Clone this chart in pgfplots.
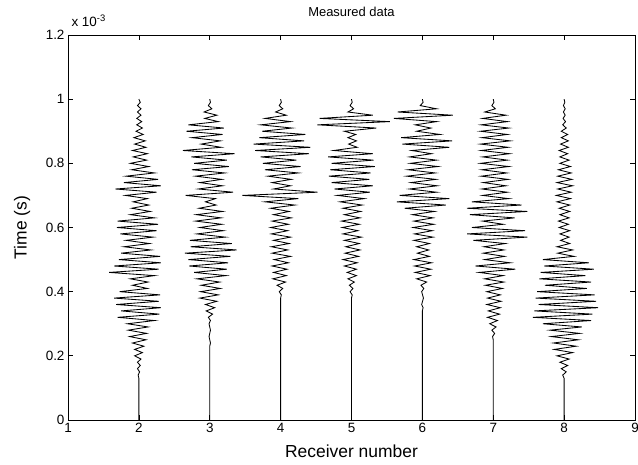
\documentclass[border=0pt]{standalone}
\usepackage{fontspec}
\setmainfont{Liberation Sans}
\usepackage{pgfplots}
\pgfplotsset{compat=1.18}
\begin{document}
\begin{tikzpicture}
\begin{axis}[
 name=ax,
 scale only axis, width=567bp, height=385bp,
 at={(0,0)}, anchor=south west,
 xmin=1, xmax=9, ymin=0, ymax=1.2,
 xtick={1,2,3,4,5,6,7,8,9}, ytick={0,0.2,0.4,0.6,0.8,1,1.2},
 tick align=inside, tick pos=both, major tick length=5bp,
 ticklabel style={font=\fontsize{13.5}{16}\selectfont},
 /pgf/number format/assume math mode=true,
 scaled y ticks=false,
 axis line style={line width=0.7pt},
 every tick/.style={black, line width=0.7pt},
 xlabel={Receiver number}, ylabel={Time (s)},
 label style={font=\fontsize{17.5}{20}\selectfont},
 xlabel style={at={(axis description cs:0.5,-0.0987)}, anchor=base},
 ylabel style={at={(axis description cs:-0.081,0.5)}, anchor=center},
 title={Measured data},
 title style={font=\fontsize{13}{15}\selectfont, at={(axis description cs:0.5,1)}, anchor=base, yshift=13bp},
 trace/.style={black, line width=0.85pt, sharp plot, mark=none},
]
% Receiver 2
\addplot[trace] table[row sep=\\, x expr=\thisrow{a}+2, y=t]{t a\\
1.00 0\\0.99 0.02\\0.98 -0.02\\0.97 0.03\\0.96 -0.02\\0.95 0.03\\0.94 -0.03\\0.93 0.04\\0.92 -0.03\\0.91 0.05\\
0.90 -0.04\\0.89 0.06\\0.88 -0.07\\0.87 0.09\\0.86 -0.06\\0.85 0.10\\0.84 -0.09\\0.83 0.12\\0.82 -0.08\\0.81 0.11\\
0.80 -0.12\\0.79 0.14\\0.78 -0.10\\0.77 0.22\\0.76 -0.18\\0.75 0.27\\0.74 -0.21\\0.73 0.31\\0.72 -0.33\\0.71 0.25\\
0.70 -0.19\\0.69 0.12\\0.68 -0.08\\0.67 0.14\\0.66 -0.10\\0.65 0.16\\0.64 -0.12\\0.63 0.22\\0.62 -0.30\\0.61 0.27\\
0.60 -0.31\\0.59 0.25\\0.58 -0.26\\0.57 0.20\\0.56 -0.18\\0.55 0.15\\0.54 -0.21\\0.53 0.17\\0.52 -0.25\\0.51 0.30\\
0.50 -0.28\\0.49 0.31\\0.48 -0.35\\0.47 0.28\\0.46 -0.42\\0.45 0.22\\0.44 -0.12\\0.43 0.13\\0.42 -0.09\\0.41 0.12\\
0.40 -0.27\\0.39 0.30\\0.38 -0.35\\0.37 0.28\\0.36 -0.32\\0.35 0.31\\0.34 -0.25\\0.33 0.29\\0.32 -0.30\\0.31 0.22\\
0.30 -0.16\\0.29 0.13\\0.28 -0.15\\0.27 0.11\\0.26 -0.13\\0.25 0.10\\0.24 -0.09\\0.23 0.07\\0.22 -0.06\\0.21 0.05\\
0.20 -0.06\\0.19 0.03\\0.18 -0.02\\0.17 0.02\\0.16 -0.02\\0.15 0.01\\0.14 -0.01\\0.13 0\\0.00 0\\
};
% Receiver 3
\addplot[trace] table[row sep=\\, x expr=\thisrow{a}+3, y=t]{t a\\
1.00 0\\0.99 0.01\\0.98 -0.02\\0.97 0.03\\0.96 -0.08\\0.95 0.10\\0.94 -0.07\\0.93 0.12\\0.92 -0.30\\0.91 0.20\\
0.90 -0.33\\0.89 0.18\\0.88 -0.25\\0.87 0.15\\0.86 -0.12\\0.85 0.16\\0.84 -0.38\\0.83 0.35\\0.82 -0.26\\0.81 0.24\\
0.80 -0.22\\0.79 0.27\\0.78 -0.25\\0.77 0.21\\0.76 -0.20\\0.75 0.17\\0.74 -0.14\\0.73 0.18\\0.72 -0.16\\0.71 0.33\\
0.70 -0.34\\0.69 0.08\\0.68 -0.06\\0.67 0.09\\0.66 -0.15\\0.65 0.18\\0.64 -0.19\\0.63 0.16\\0.62 -0.20\\0.61 0.17\\
0.60 -0.14\\0.59 0.19\\0.58 -0.18\\0.57 0.22\\0.56 -0.28\\0.55 0.31\\0.54 -0.27\\0.53 0.38\\0.52 -0.35\\0.51 0.29\\
0.50 -0.30\\0.49 0.26\\0.48 -0.29\\0.47 0.24\\0.46 -0.22\\0.45 0.23\\0.44 -0.18\\0.43 0.14\\0.42 -0.12\\0.41 0.15\\
0.40 -0.13\\0.39 0.12\\0.38 -0.14\\0.37 0.10\\0.36 -0.06\\0.35 0.07\\0.34 -0.05\\0.33 0.04\\0.32 -0.02\\0.31 0.01\\
0.30 -0.01\\0.28 0.01\\0.26 -0.01\\0.24 0.01\\0.23 0\\0.00 0\\
};
% Receiver 4
\addplot[trace] table[row sep=\\, x expr=\thisrow{a}+4, y=t]{t a\\
1.00 0\\0.99 0.01\\0.98 -0.02\\0.97 0.03\\0.96 -0.07\\0.95 0.08\\0.94 -0.22\\0.93 0.14\\0.92 -0.28\\0.91 0.16\\
0.90 -0.26\\0.89 0.35\\0.88 -0.30\\0.87 0.33\\0.86 -0.38\\0.85 0.42\\0.84 -0.36\\0.83 0.40\\0.82 -0.28\\0.81 0.22\\
0.80 -0.25\\0.79 0.28\\0.78 -0.22\\0.77 0.25\\0.76 -0.18\\0.75 0.15\\0.74 -0.12\\0.73 0.14\\0.72 -0.10\\0.71 0.52\\
0.70 -0.54\\0.69 0.25\\0.68 -0.22\\0.67 0.20\\0.66 -0.14\\0.65 0.12\\0.64 -0.10\\0.63 0.15\\0.62 -0.12\\0.61 0.11\\
0.60 -0.14\\0.59 0.10\\0.58 -0.13\\0.57 0.14\\0.56 -0.10\\0.55 0.12\\0.54 -0.13\\0.53 0.10\\0.52 -0.12\\0.51 0.14\\
0.50 -0.09\\0.49 0.11\\0.48 -0.12\\0.47 0.09\\0.46 -0.10\\0.45 0.08\\0.44 -0.11\\0.43 0.07\\0.42 -0.05\\0.41 0.03\\
0.40 -0.02\\0.39 0.01\\0.38 0\\0.00 0\\
};
% Receiver 5
\addplot[trace] table[row sep=\\, x expr=\thisrow{a}+5, y=t]{t a\\
1.00 0\\0.99 0.01\\0.98 -0.02\\0.97 0.03\\0.96 -0.05\\0.95 0.30\\0.94 -0.45\\0.93 0.54\\0.92 -0.48\\0.91 0.35\\
0.90 -0.10\\0.89 0.06\\0.88 -0.05\\0.87 0.07\\0.86 -0.04\\0.85 0.08\\0.84 -0.25\\0.83 0.30\\0.82 -0.33\\0.81 0.31\\
0.80 -0.28\\0.79 0.33\\0.78 -0.30\\0.77 0.27\\0.76 -0.32\\0.75 0.25\\0.74 -0.28\\0.73 0.30\\0.72 -0.24\\0.71 0.26\\
0.70 -0.20\\0.69 0.18\\0.68 -0.16\\0.67 0.15\\0.66 -0.12\\0.65 0.13\\0.64 -0.10\\0.63 0.12\\0.62 -0.14\\0.61 0.11\\
0.60 -0.13\\0.59 0.09\\0.58 -0.12\\0.57 0.14\\0.56 -0.10\\0.55 0.11\\0.54 -0.08\\0.53 0.12\\0.52 -0.09\\0.51 0.10\\
0.50 -0.12\\0.49 0.08\\0.48 -0.10\\0.47 0.07\\0.46 -0.06\\0.45 0.07\\0.44 -0.05\\0.43 0.04\\0.42 -0.03\\0.41 0.02\\
0.40 -0.02\\0.39 0.01\\0.38 0\\0.00 0\\
};
% Receiver 6
\addplot[trace] table[row sep=\\, x expr=\thisrow{a}+6, y=t]{t a\\
1.00 0\\0.99 0.01\\0.98 -0.03\\0.97 0.20\\0.96 -0.35\\0.95 0.43\\0.94 -0.40\\0.93 0.20\\0.92 -0.10\\0.91 0.12\\
0.90 -0.08\\0.89 0.25\\0.88 -0.30\\0.87 0.42\\0.86 -0.28\\0.85 0.38\\0.84 -0.15\\0.83 0.13\\0.82 -0.18\\0.81 0.20\\
0.80 -0.17\\0.79 0.22\\0.78 -0.20\\0.77 0.18\\0.76 -0.22\\0.75 0.19\\0.74 -0.16\\0.73 0.21\\0.72 -0.18\\0.71 0.20\\
0.70 -0.32\\0.69 0.38\\0.68 -0.36\\0.67 0.33\\0.66 -0.25\\0.65 0.17\\0.64 -0.14\\0.63 0.15\\0.62 -0.12\\0.61 0.16\\
0.60 -0.13\\0.59 0.14\\0.58 -0.11\\0.57 0.15\\0.56 -0.12\\0.55 0.10\\0.54 -0.08\\0.53 0.09\\0.52 -0.07\\0.51 0.10\\
0.50 -0.12\\0.49 0.13\\0.48 -0.11\\0.47 0.12\\0.46 -0.10\\0.45 0.11\\0.44 -0.08\\0.43 0.06\\0.42 -0.02\\0.41 0.02\\
0.40 -0.01\\0.38 0.015\\0.36 -0.01\\0.35 0.01\\0.34 0\\0.00 0\\
};
% Receiver 7
\addplot[trace] table[row sep=\\, x expr=\thisrow{a}+7, y=t]{t a\\
1.00 0\\0.99 0.01\\0.98 -0.02\\0.97 0.03\\0.96 -0.12\\0.95 0.18\\0.94 -0.15\\0.93 0.20\\0.92 -0.17\\0.91 0.22\\
0.90 -0.18\\0.89 0.20\\0.88 -0.16\\0.87 0.24\\0.86 -0.18\\0.85 0.21\\0.84 -0.17\\0.83 0.23\\0.82 -0.15\\0.81 0.20\\
0.80 -0.18\\0.79 0.22\\0.78 -0.16\\0.77 0.19\\0.76 -0.17\\0.75 0.21\\0.74 -0.14\\0.73 0.18\\0.72 -0.16\\0.71 0.20\\
0.70 -0.15\\0.69 0.22\\0.68 -0.30\\0.67 0.40\\0.66 -0.37\\0.65 0.48\\0.64 -0.33\\0.63 0.30\\0.62 -0.15\\0.61 0.14\\
0.60 -0.30\\0.59 0.45\\0.58 -0.37\\0.57 0.48\\0.56 -0.28\\0.55 0.17\\0.54 -0.13\\0.53 0.15\\0.52 -0.14\\0.51 0.16\\
0.50 -0.12\\0.49 0.24\\0.48 -0.25\\0.47 0.31\\0.46 -0.20\\0.45 0.14\\0.44 -0.12\\0.43 0.15\\0.42 -0.11\\0.41 0.13\\
0.40 -0.09\\0.39 0.10\\0.38 -0.08\\0.37 0.11\\0.36 -0.09\\0.35 0.10\\0.34 -0.07\\0.33 0.09\\0.32 -0.08\\0.31 0.06\\
0.30 -0.05\\0.29 0.04\\0.28 -0.02\\0.27 0.02\\0.26 -0.01\\0.25 0\\0.00 0\\
};
% Receiver 8
\addplot[trace] table[row sep=\\, x expr=\thisrow{a}+8, y=t]{t a\\
1.00 0\\0.99 0.01\\0.98 -0.01\\0.97 0.015\\0.96 -0.01\\0.95 0.015\\0.94 -0.015\\0.93 0.02\\0.92 -0.02\\0.91 0.03\\
0.90 -0.04\\0.89 0.05\\0.88 -0.04\\0.87 0.06\\0.86 -0.05\\0.85 0.06\\0.84 -0.07\\0.83 0.05\\0.82 -0.06\\0.81 0.07\\
0.80 -0.06\\0.79 0.09\\0.78 -0.08\\0.77 0.10\\0.76 -0.09\\0.75 0.11\\0.74 -0.10\\0.73 0.12\\0.72 -0.09\\0.71 0.10\\
0.70 -0.11\\0.69 0.09\\0.68 -0.10\\0.67 0.08\\0.66 -0.07\\0.65 0.08\\0.64 -0.06\\0.63 0.07\\0.62 -0.08\\0.61 0.06\\
0.60 -0.07\\0.59 0.08\\0.58 -0.06\\0.57 0.07\\0.56 -0.05\\0.55 0.08\\0.54 -0.10\\0.53 0.12\\0.52 -0.09\\0.51 0.14\\
0.50 -0.30\\0.49 0.35\\0.48 -0.28\\0.47 0.42\\0.46 -0.33\\0.45 0.30\\0.44 -0.35\\0.43 0.38\\0.42 -0.27\\0.41 0.32\\
0.40 -0.38\\0.39 0.43\\0.38 -0.40\\0.37 0.45\\0.36 -0.36\\0.35 0.48\\0.34 -0.42\\0.33 0.40\\0.32 -0.44\\0.31 0.38\\
0.30 -0.30\\0.29 0.25\\0.28 -0.20\\0.27 0.22\\0.26 -0.18\\0.25 0.20\\0.24 -0.15\\0.23 0.17\\0.22 -0.14\\0.21 0.12\\
0.20 -0.10\\0.19 0.07\\0.18 -0.06\\0.17 0.05\\0.16 -0.04\\0.15 0.03\\0.14 -0.02\\0.13 0\\0.00 0\\
};
\end{axis}
\node[anchor=base west, yshift=8bp, font=\fontsize{13.5}{16}\selectfont] at (ax.north west) {x 10\textsuperscript{-3}};
\pgfresetboundingbox
\path[use as bounding box] (-68bp,-45bp) rectangle (570bp,420bp);
\end{tikzpicture}
\end{document}
